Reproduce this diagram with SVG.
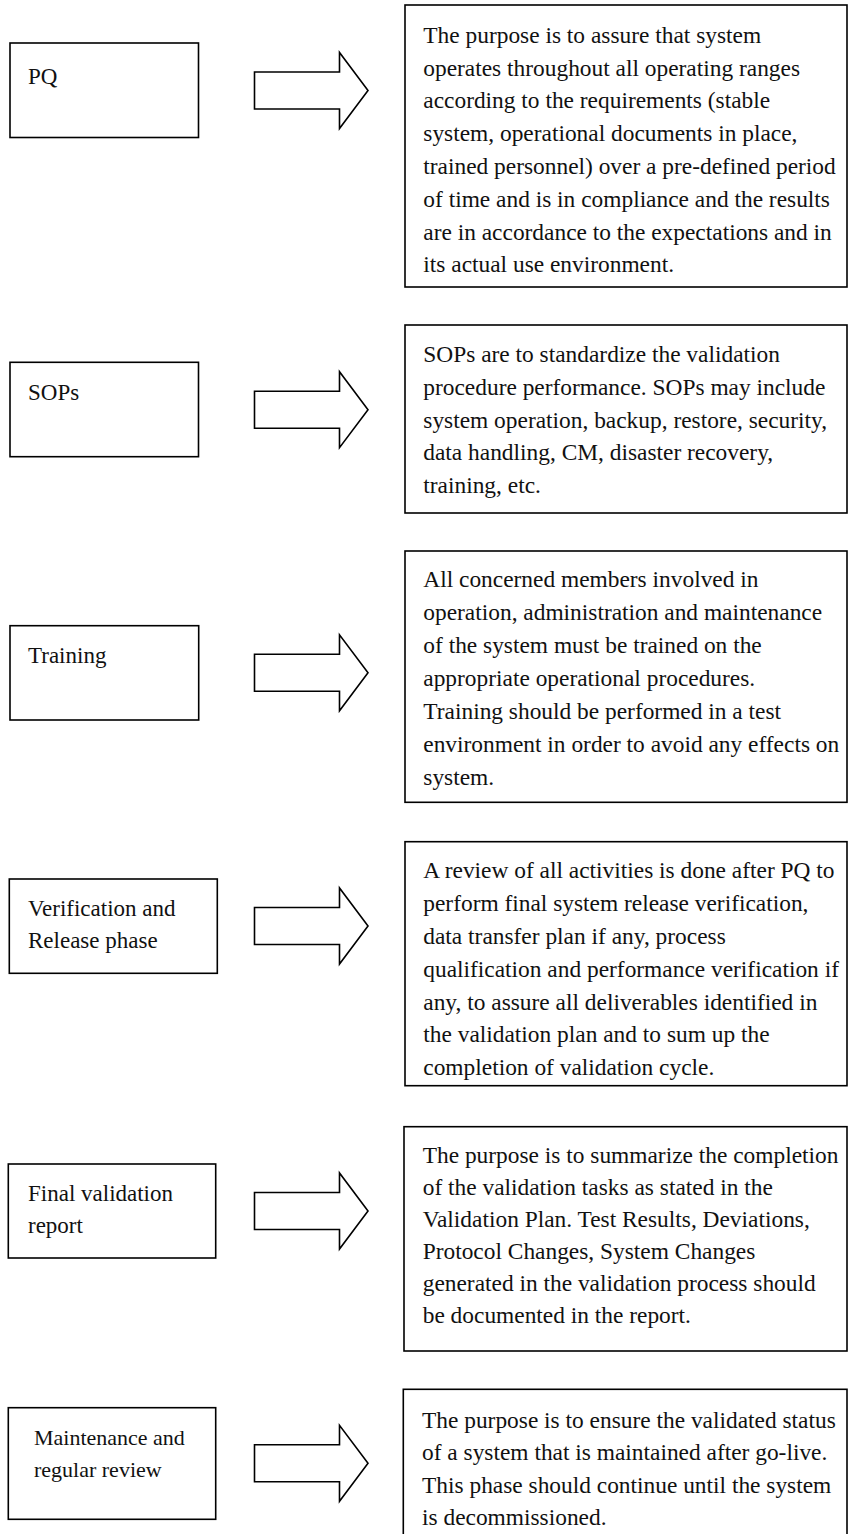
<svg xmlns="http://www.w3.org/2000/svg" width="848" height="1534" viewBox="0 0 848 1534">
<defs>
<style>
.box{fill:#fff;stroke:#000;stroke-width:1.6}
.arrow{fill:#fff;stroke:#000;stroke-width:1.6;stroke-linejoin:miter}
text{font-family:"Liberation Serif","Times New Roman",serif;font-size:23px;fill:#111}
.desc{font-size:23.4px}
</style>
<path id="arr" d="M254.5,-18.5 H339.5 V-38 L368,0 L339.5,38 V18.5 H254.5 Z"/>
</defs>
<rect width="848" height="1534" fill="#fff"/>

<g id="connectors">
<use href="#arr" class="arrow" transform="translate(0,90.5)"/>
<use href="#arr" class="arrow" transform="translate(0,409.7)"/>
<use href="#arr" class="arrow" transform="translate(0,672.8)"/>
<use href="#arr" class="arrow" transform="translate(0,926)"/>
<use href="#arr" class="arrow" transform="translate(0,1211)"/>
<use href="#arr" class="arrow" transform="translate(0,1463.3)"/>
</g>

<g id="node-pq">
<rect class="box" x="10" y="43" width="188.5" height="94.5"/>
<text x="28" y="83.5">PQ</text>
</g>
<g id="desc-pq">
<rect class="box" x="405" y="5" width="442" height="282"/>
<text class="desc">
<tspan x="423.3" y="42.7">The purpose is to assure that system</tspan>
<tspan x="423.3" y="75.5">operates throughout all operating ranges</tspan>
<tspan x="423.3" y="108.3">according to the requirements (stable</tspan>
<tspan x="423.3" y="141.1">system, operational documents in place,</tspan>
<tspan x="423.3" y="173.9">trained personnel) over a pre-defined period</tspan>
<tspan x="423.3" y="206.7">of time and is in compliance and the results</tspan>
<tspan x="423.3" y="239.5">are in accordance to the expectations and in</tspan>
<tspan x="423.3" y="272.3">its actual use environment.</tspan>
</text>
</g>

<g id="node-sops">
<rect class="box" x="10" y="362.3" width="188.5" height="94.4"/>
<text x="28" y="400">SOPs</text>
</g>
<g id="desc-sops">
<rect class="box" x="405" y="325" width="442" height="188"/>
<text class="desc">
<tspan x="423.3" y="361.7">SOPs are to standardize the validation</tspan>
<tspan x="423.3" y="394.6">procedure performance. SOPs may include</tspan>
<tspan x="423.3" y="427.5">system operation, backup, restore, security,</tspan>
<tspan x="423.3" y="460.4">data handling, CM, disaster recovery,</tspan>
<tspan x="423.3" y="493.3">training, etc.</tspan>
</text>
</g>

<g id="node-training">
<rect class="box" x="10" y="625.7" width="188.7" height="94.3"/>
<text x="28" y="662.7">Training</text>
</g>
<g id="desc-training">
<rect class="box" x="405" y="551" width="442" height="251.3"/>
<text class="desc">
<tspan x="423.3" y="586.7">All concerned members involved in</tspan>
<tspan x="423.3" y="619.7">operation, administration and maintenance</tspan>
<tspan x="423.3" y="652.7">of the system must be trained on the</tspan>
<tspan x="423.3" y="685.7">appropriate operational procedures.</tspan>
<tspan x="423.3" y="718.7">Training should be performed in a test</tspan>
<tspan x="423.3" y="751.7">environment in order to avoid any effects on</tspan>
<tspan x="423.3" y="784.7">system.</tspan>
</text>
</g>

<g id="node-verification">
<rect class="box" x="9.3" y="879" width="208" height="94.3"/>
<text>
<tspan x="28" y="916">Verification and</tspan>
<tspan x="28" y="948.3">Release phase</tspan>
</text>
</g>
<g id="desc-verification">
<rect class="box" x="405" y="841.7" width="442" height="244"/>
<text class="desc">
<tspan x="423.3" y="878.3">A review of all activities is done after PQ to</tspan>
<tspan x="423.3" y="911.1">perform final system release verification,</tspan>
<tspan x="423.3" y="943.9">data transfer plan if any, process</tspan>
<tspan x="423.3" y="976.7">qualification and performance verification if</tspan>
<tspan x="423.3" y="1009.5">any, to assure all deliverables identified in</tspan>
<tspan x="423.3" y="1042.3">the validation plan and to sum up the</tspan>
<tspan x="423.3" y="1075.1">completion of validation cycle.</tspan>
</text>
</g>

<g id="node-final-report">
<rect class="box" x="8.3" y="1164" width="207.4" height="94"/>
<text>
<tspan x="28" y="1201">Final validation</tspan>
<tspan x="28" y="1233">report</tspan>
</text>
</g>
<g id="desc-final-report">
<rect class="box" x="404" y="1126.7" width="443" height="224.3"/>
<text class="desc">
<tspan x="422.7" y="1163.3">The purpose is to summarize the completion</tspan>
<tspan x="422.7" y="1195.3">of the validation tasks as stated in the</tspan>
<tspan x="422.7" y="1227.3">Validation Plan. Test Results, Deviations,</tspan>
<tspan x="422.7" y="1259.3">Protocol Changes, System Changes</tspan>
<tspan x="422.7" y="1291.3">generated in the validation process should</tspan>
<tspan x="422.7" y="1323.3">be documented in the report.</tspan>
</text>
</g>

<g id="node-maintenance">
<rect class="box" x="8.3" y="1407.7" width="207.4" height="111.6"/>
<text style="font-size:22px">
<tspan x="34" y="1445">Maintenance and</tspan>
<tspan x="34" y="1476.7">regular review</tspan>
</text>
</g>
<g id="desc-maintenance">
<rect class="box" x="403.3" y="1389.3" width="443.7" height="160"/>
<text class="desc">
<tspan x="422" y="1428.3">The purpose is to ensure the validated status</tspan>
<tspan x="422" y="1460.3">of a system that is maintained after go-live.</tspan>
<tspan x="422" y="1492.5">This phase should continue until the system</tspan>
<tspan x="422" y="1524.7">is decommissioned.</tspan>
</text>
</g>
</svg>
